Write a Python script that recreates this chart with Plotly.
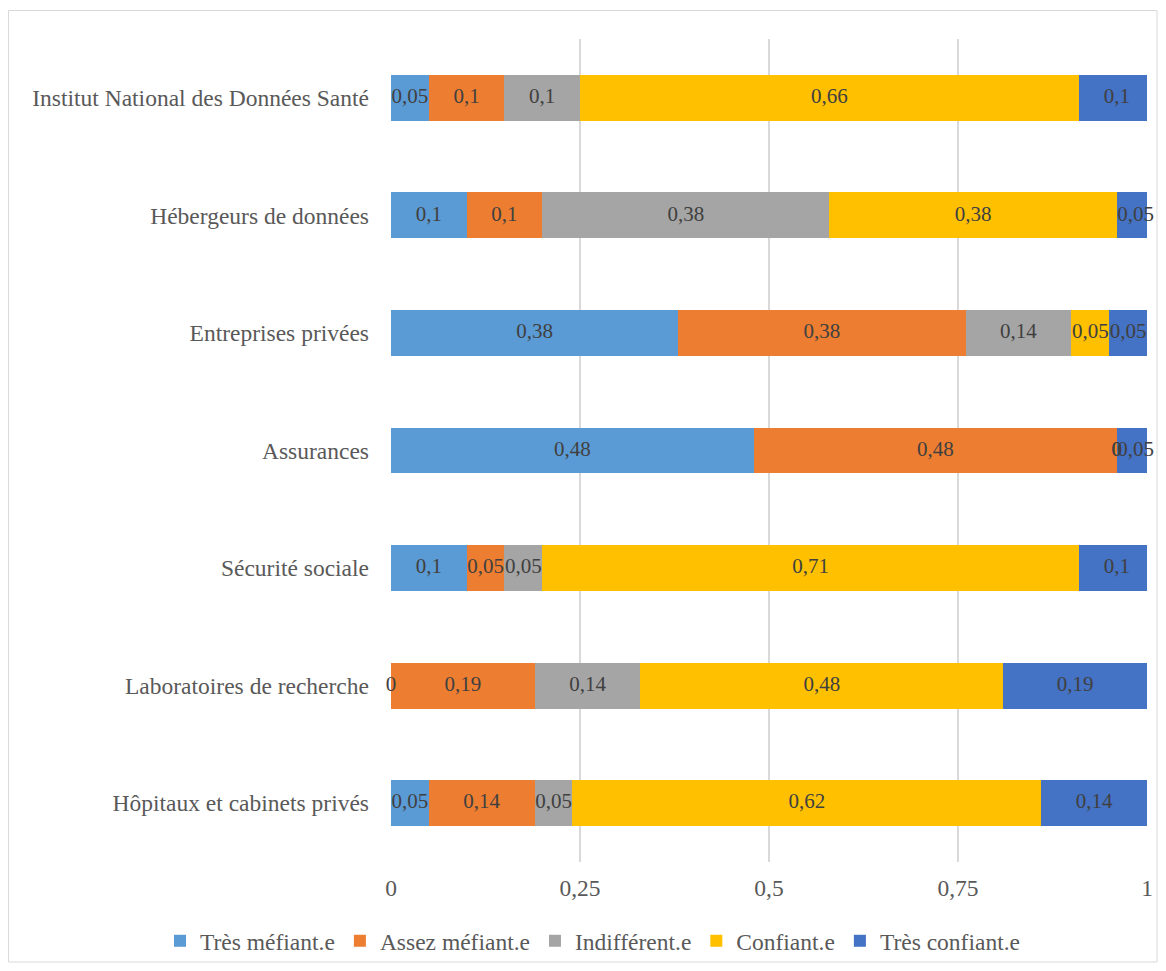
import plotly.graph_objects as go

categories = [
    "Institut National des Données Santé",
    "Hébergeurs de données",
    "Entreprises privées",
    "Assurances",
    "Sécurité sociale",
    "Laboratoires de recherche",
    "Hôpitaux et cabinets privés",
]
series_names = ["Très méfiant.e", "Assez méfiant.e", "Indifférent.e", "Confiant.e", "Très confiant.e"]
tres_mefiant = [0.05, 0.1, 0.38, 0.48, 0.1, 0, 0.05]
assez_mefiant = [0.1, 0.1, 0.38, 0.48, 0.05, 0.19, 0.14]
indifferent = [0.1, 0.38, 0.14, 0, 0.05, 0.14, 0.05]
confiant = [0.66, 0.38, 0.05, 0, 0.71, 0.48, 0.62]
tres_confiant = [0.1, 0.05, 0.05, 0.05, 0.1, 0.19, 0.14]
colors = ["#5B9BD5", "#ED7D31", "#A5A5A5", "#FFC000", "#4472C4"]
x_ticks = [0, 0.25, 0.5, 0.75, 1]
x_ticktext = ["0", "0,25", "0,5", "0,75", "1"]

series = [tres_mefiant, assez_mefiant, indifferent, confiant, tres_confiant]
FONT = "Liberation Serif"

def fmt(v):
    return f"{v:g}".replace(".", ",")

fig = go.Figure()
for name, vals, col in zip(series_names, series, colors):
    fig.add_trace(go.Bar(
        y=categories, x=vals, name=name, orientation="h",
        marker=dict(color=col, line=dict(width=0)),
        hoverinfo="x+y+name",
    ))

# Data labels at segment centres
lx, ly, lt = [], [], []
for i, cat in enumerate(categories):
    start = 0.0
    for vals in series:
        v = vals[i]
        lx.append(start + v / 2)
        ly.append(cat)
        lt.append(fmt(v))
        start += v
fig.add_trace(go.Scatter(
    x=lx, y=ly, text=lt, mode="text", textposition="middle center",
    textfont=dict(family=FONT, size=21, color="#404040"),
    showlegend=False, hoverinfo="skip", cliponaxis=False,
))

# page offset of 8px (body margin)
OFF = 8
W, H = 1166 - 2 * OFF, 971 - 2 * OFF
L, T = 391 - OFF, 39 - OFF
R = W - (1147 - OFF)
B = H - (862 - OFF)
pw, ph = W - L - R, H - T - B

def px_x(p):
    return (p - OFF - L) / pw

def px_y(p):
    return (H - B - (p - OFF)) / ph

fig.add_shape(type="rect", xref="paper", yref="paper",
              x0=px_x(8.5), x1=px_x(1157), y0=px_y(962), y1=px_y(10.5),
              line=dict(color="#D9D9D9", width=1), fillcolor="rgba(0,0,0,0)", layer="below")

fig.update_layout(
    width=W, height=H,
    margin=dict(l=L, r=R, t=T, b=B, autoexpand=False),
    barmode="stack", bargap=0.61,
    plot_bgcolor="white", paper_bgcolor="white",
    font=dict(family=FONT, size=23.5, color="#595959"),
    legend=dict(orientation="h",
                x=px_x(160), xanchor="left",
                y=px_y(941), yanchor="middle",
                bgcolor="rgba(0,0,0,0)",
                font=dict(family=FONT, size=23.5, color="#595959"),
                itemwidth=30, traceorder="normal"),
    xaxis=dict(range=[0, 1.0], tickvals=x_ticks, ticktext=x_ticktext,
               showgrid=True, gridcolor="#D9D9D9", gridwidth=2,
               zeroline=False, showline=False, ticks="", automargin=False,
               ticklabelstandoff=9,
               tickfont=dict(family=FONT, size=23.5, color="#595959")),
    yaxis=dict(autorange="reversed", showgrid=False, zeroline=False,
               showline=False, ticks="", ticklabelstandoff=21, automargin=False,
               tickfont=dict(family=FONT, size=23.5, color="#595959")),
)
fig.write_html("out.html")
